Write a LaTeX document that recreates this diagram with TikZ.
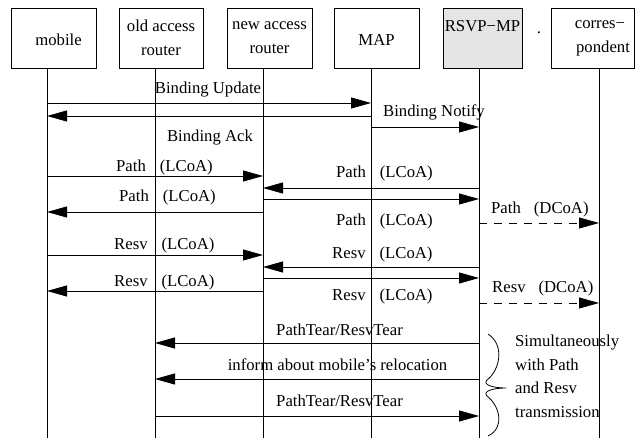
\documentclass[tikz,border=0pt]{standalone}
\usepackage{fontspec}
\setmainfont{Liberation Serif}
\usetikzlibrary{arrows.meta}
\definecolor{rsvpgray}{RGB}{229,229,229}
\newcommand{\fs}{\fontsize{16.7}{24}\selectfont}
\tikzset{
  box/.style={draw, line width=0.8pt, minimum width=85pt, minimum height=60pt, inner sep=0pt, align=center, font=\fs,
    execute at begin node={\rule{0pt}{15.4pt}}},
  life/.style={line width=0.8pt},
  msg/.style={line width=0.8pt, -{Triangle[length=20pt,width=11pt]}},
  dmsg/.style={msg, dash pattern=on 8pt off 7pt},
  lbl/.style={inner sep=0pt, font=\fs, yshift=-2.5pt},
  wlbl/.style={lbl, anchor=west},
}
\begin{document}
\begin{tikzpicture}[x=1pt,y=-1pt]
\useasboundingbox (0,0) rectangle (635,438);
% boxes
\node[box] (mob) at (53.5,38) {\hspace*{10pt}mobile};
\node[box, minimum width=84pt] (oar) at (161,38) {old access\\router};
\node[box] (nar) at (269.5,38) {new access\\router};
\node[box] (map) at (376.5,38) {MAP};
\node[box, fill=rsvpgray, minimum width=79pt] (rsvp) at (482.5,38) {RSVP−MP\\\mbox{}};
\node[box, minimum width=83pt] (cor) at (592.5,38) {\hspace*{15pt}corres−\\\hspace*{21pt}pondent};
\node[inner sep=0pt, font=\fs, anchor=base] (dot) at (539,34) {.};
% lifelines
\foreach \n/\x in {mob/47, oar/155, nar/263, map/371, rsvp/479, cor/599}{
  \coordinate (\n-end) at (\x,438);
  \draw[life] (\n-end |- \n.south) -- (\n-end);
}
% binding
\draw[msg] (mob-end |- 0,103) -- (map-end |- 0,103);
\draw[msg] (map-end |- 0,116) -- (mob-end |- 0,116);
\draw[msg] (map-end |- 0,127) -- (rsvp-end |- 0,127);
\node[lbl] (bu) at (208,87) {Binding Update};
\node[lbl] (ba) at (210,135) {Binding Ack};
\node[lbl] (bn) at (434,110) {Binding Notify};
% path
\draw[msg] (mob-end |- 0,176) -- (nar-end |- 0,176);
\draw[msg] (rsvp-end |- 0,188) -- (nar-end |- 0,188);
\draw[msg] (nar-end |- 0,199) -- (rsvp-end |- 0,199);
\draw[msg] (nar-end |- 0,212) -- (mob-end |- 0,212);
\draw[dmsg] (rsvp-end |- 0,223) -- (cor-end |- 0,223);
\node[wlbl] (p1) at (116,165) {Path\hspace{14pt}(LCoA)};
\node[wlbl] (p2) at (336,171) {Path\hspace{14pt}(LCoA)};
\node[wlbl] (p3) at (119,195) {Path\hspace{14pt}(LCoA)};
\node[wlbl] (p4) at (336,219) {Path\hspace{14pt}(LCoA)};
\node[wlbl] (p5) at (491,207) {Path\hspace{13pt}(DCoA)};
% resv
\draw[msg] (mob-end |- 0,255) -- (nar-end |- 0,255);
\draw[msg] (rsvp-end |- 0,267) -- (nar-end |- 0,267);
\draw[msg] (nar-end |- 0,278) -- (rsvp-end |- 0,278);
\draw[msg] (nar-end |- 0,291) -- (mob-end |- 0,291);
\draw[dmsg] (rsvp-end |- 0,303) -- (cor-end |- 0,303);
\node[wlbl] (r1) at (114,243) {Resv\hspace{14pt}(LCoA)};
\node[wlbl] (r2) at (332,252) {Resv\hspace{14pt}(LCoA)};
\node[wlbl] (r3) at (114,280) {Resv\hspace{14pt}(LCoA)};
\node[wlbl] (r4) at (332,294) {Resv\hspace{14pt}(LCoA)};
\node[wlbl] (r5) at (492,286) {Resv\hspace{13pt}(DCoA)};
% teardown
\draw[msg] (rsvp-end |- 0,343) -- (oar-end |- 0,343);
\draw[msg] (rsvp-end |- 0,379) -- (oar-end |- 0,379);
\draw[msg] (oar-end |- 0,416) -- (rsvp-end |- 0,416);
\node[lbl] (t1) at (339.5,327) {PathTear/ResvTear};
\node[lbl] (t2) at (337.5,362) {inform about mobile’s relocation};
\node[lbl] (t3) at (339.5,398) {PathTear/ResvTear};
% brace and note
\draw[line width=0.8pt] (488,334) .. controls (505,345) and (500,370) .. (487,380)
  .. controls (482,385) and (494,388) .. (506,388)
  .. controls (494,388) and (482,391) .. (487,396)
  .. controls (500,406) and (505,428) .. (488,436);
\node[lbl, anchor=north west, align=left, font=\fontsize{16.7}{23.5}\selectfont] (note) at (515,332.6)
  {Simultaneously\\with Path\\and Resv\\transmission};
\end{tikzpicture}
\end{document}
